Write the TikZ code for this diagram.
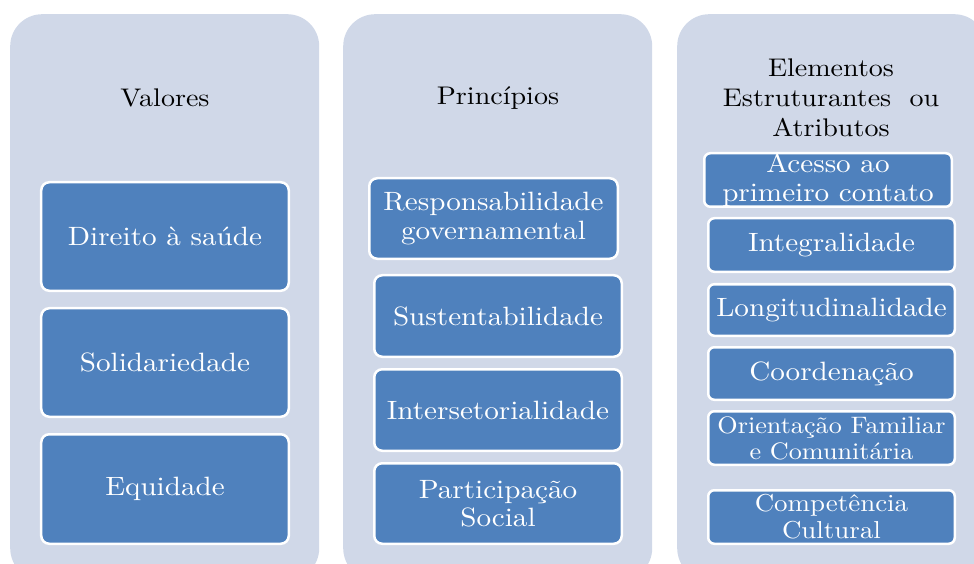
\documentclass[tikz,border=0pt]{standalone}
\usepackage{fontspec}
\setmainfont{lmroman10-regular.otf}[FakeStretch=1.1]
\definecolor{panelfill}{HTML}{D0D8E8}
\definecolor{boxblue}{HTML}{4F81BD}
\tikzset{
  panelbox/.style={fill=panelfill, rounded corners=32bp, inner sep=0pt, anchor=north west,
    minimum width=309bp, minimum height=566bp},
  titletext/.style={text=black, align=center, inner sep=0pt,
    font=\fontsize{25.5bp}{30bp}\selectfont},
  itembox/.style={fill=boxblue, draw=white, line width=2.5bp, rounded corners=8bp,
    text=white, align=center, inner sep=0pt,
    font=\fontsize{26.5bp}{28.5bp}\selectfont},
  smallbox/.style={itembox, rounded corners=6bp}
}
\begin{document}
\begin{tikzpicture}[x=1bp,y=-1bp]
\useasboundingbox (0,0) rectangle (974,564);
% panels
\node[panelbox] (p1) at (10,14) {};
\node[panelbox] (p2) at (343,14) {};
\node[panelbox] (p3) at (677,14) {};
% titles
\node[titletext] (t1) at (165,98) {Valores};
\node[titletext] (t2) at (498,98) {Princípios};
\node[titletext] (t3) at (831,98) {Elementos\\Estruturantes\hspace{0.35em} ou\\Atributos};
% column 1
\node[itembox, minimum width=247.5bp, minimum height=108.5bp] (a1) at (165,236.5) {Direito à saúde};
\node[itembox, minimum width=247.5bp, minimum height=108.5bp] (a2) at (165,362.5) {Solidariedade};
\node[itembox, minimum width=247.5bp, minimum height=109.5bp] (a3) at (165,489) {Equidade};
% column 2
\node[itembox, minimum width=248.5bp, minimum height=80.5bp] (b1) at (493.5,218.5) {Responsabilidade\\governamental};
\node[itembox, minimum width=247.5bp, minimum height=81.5bp] (b2) at (498,316) {Sustentabilidade};
\node[itembox, minimum width=247.5bp, minimum height=81.5bp] (b3) at (498,410) {Intersetorialidade};
\node[itembox, minimum width=247.5bp, minimum height=80.5bp] (b4) at (498,503.5) {Participação\\Social};
% column 3
\node[smallbox, minimum width=247.5bp, minimum height=53.5bp] (c1) at (828,180) {Acesso ao\\primeiro contato};
\node[smallbox, minimum width=246.5bp, minimum height=53.5bp] (c2) at (831.5,245) {Integralidade};
\node[smallbox, minimum width=246.5bp, minimum height=51.5bp] (c3) at (831.5,310) {Longitudinalidade};
\node[smallbox, minimum width=246.5bp, minimum height=52.5bp] (c4) at (831.5,373.5) {Coordenação};
\node[smallbox, minimum width=246.5bp, minimum height=53.5bp,
      font=\fontsize{23.8bp}{26bp}\selectfont] (c5) at (831.5,438) {Orientação Familiar\\e Comunitária};
\node[smallbox, minimum width=246.5bp, minimum height=53.5bp,
      font=\fontsize{24.5bp}{27bp}\selectfont] (c6) at (831.5,517) {Competência\\Cultural};
\end{tikzpicture}
\end{document}
